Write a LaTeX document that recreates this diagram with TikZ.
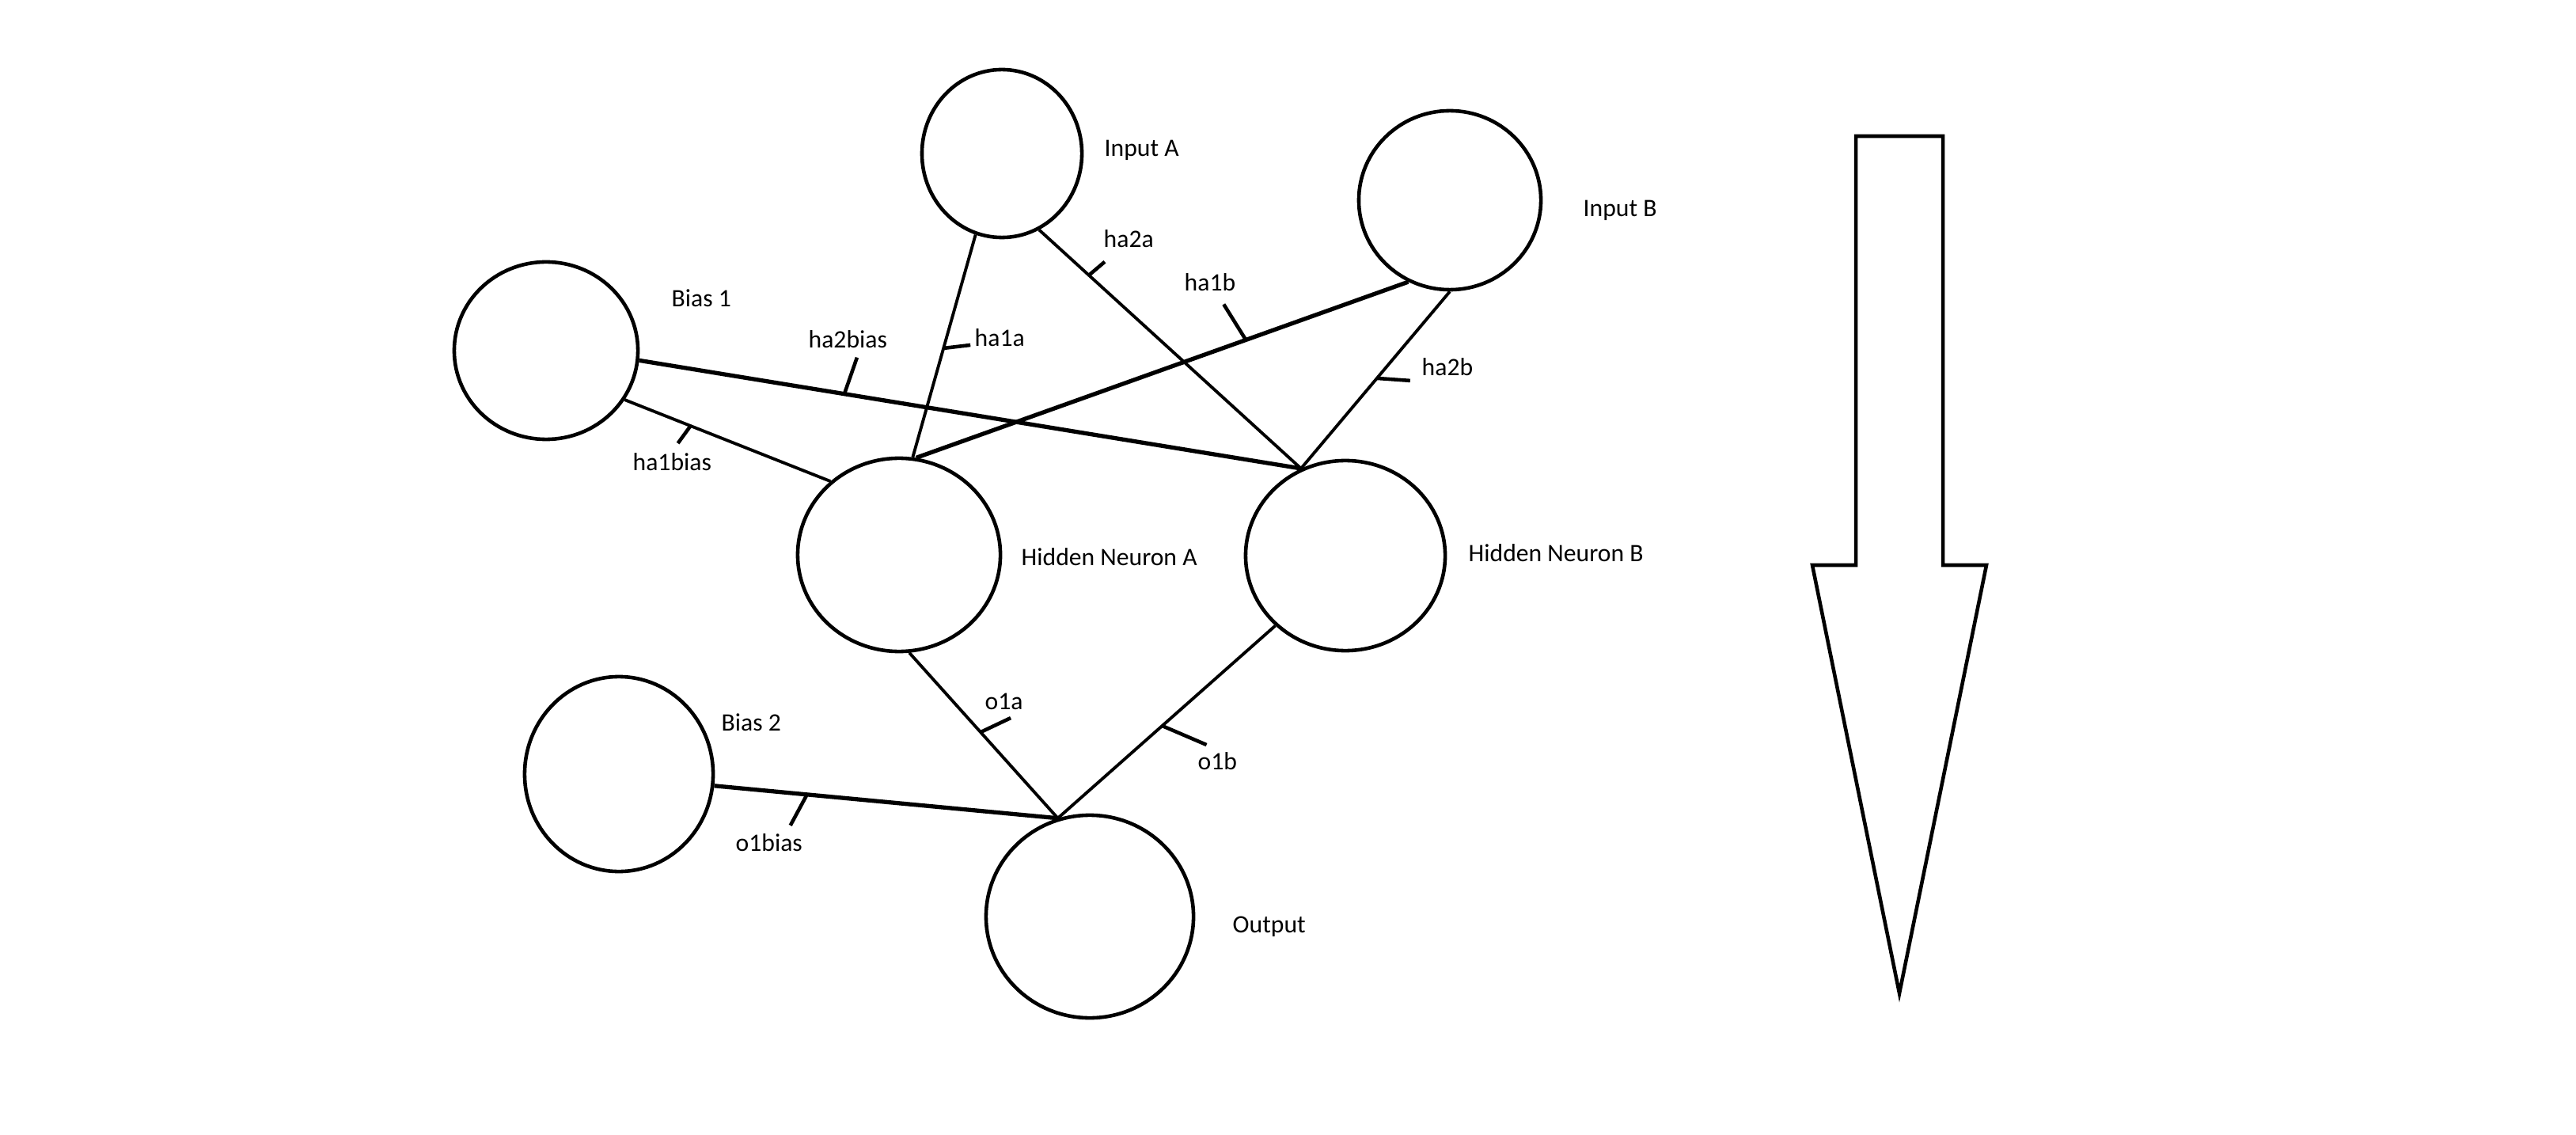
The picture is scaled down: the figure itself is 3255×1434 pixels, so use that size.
\documentclass[tikz,border=0pt]{standalone}
\usepackage{fontspec}
\setmainfont{Carlito}
\usetikzlibrary{shapes.geometric}

\begin{document}
\begin{tikzpicture}[x=0.01cm,y=-0.01cm,
    neuron/.style={draw,ellipse,line width=1.3pt,inner sep=0pt},
    wire/.style={line width=1.1pt},
    heavy/.style={line width=1.5pt},
    tick/.style={line width=1.3pt},
    lbl/.style={anchor=base west,inner sep=0pt,font=\fontsize{9pt}{11pt}\selectfont}]
  \useasboundingbox (0,0) rectangle (3255,1434);

  %neurons
  \node[neuron,minimum width=2.02cm,minimum height=2.12cm] (ia) at (1266,194) {};
  \node[neuron,minimum width=2.30cm,minimum height=2.26cm] (ib) at (1832,253) {};
  \node[neuron,minimum width=2.32cm,minimum height=2.24cm] (b1) at (690,443) {};
  \node[neuron,minimum width=2.56cm,minimum height=2.44cm] (ha) at (1136,701) {};
  \node[neuron,minimum width=2.52cm,minimum height=2.40cm] (hb) at (1700,702) {};
  \node[neuron,minimum width=2.38cm,minimum height=2.46cm] (b2) at (782,978) {};
  \node[neuron,minimum width=2.62cm,minimum height=2.56cm] (out) at (1377,1158) {};

  %names
  \node[lbl] (lia) at (1395,198) {Input A};
  \node[lbl] (lib) at (2000,274) {Input B};
  \node[lbl] (lb1) at (848,388) {Bias 1};
  \node[lbl] (lha) at (1290,714) {Hidden Neuron A};
  \node[lbl] (lhb) at (1855,709) {Hidden Neuron B};
  \node[lbl] (lb2) at (911,923) {Bias 2};
  \node[lbl] (lout) at (1557,1178) {Output};

  %inputs>hidden
  \draw[wire] (ia.252) -- coordinate[pos=.51] (t1a) (ha.82);
  \draw[wire] (ia.296) -- coordinate[pos=.19] (t2a) (hb.117);
  \draw[heavy] (ib.243) -- coordinate[pos=.33] (t1b) (ha.80);
  \draw[wire] (ib.270) -- coordinate[pos=.49] (t2b) (hb.117);
  \draw[heavy] (b1.354) -- coordinate[pos=.31] (t2bias) (hb.117);
  \draw[wire] (b1.328) -- coordinate[pos=.32] (t1bias) (ha.133);

  %hidden>output
  \draw[wire] (ha.276) -- coordinate[pos=.48] (to1a) (out.108);
  \draw[wire] (hb.225) -- coordinate[pos=.52] (to1b) (out.108);
  \draw[heavy] (b2.353) -- coordinate[pos=.27] (to1bias) (out.108);

  %weights
  \draw[tick] (t1a) -- ++(34,-4);
  \draw[tick] (t2a) -- ++(20,-17);
  \draw[tick] (t1b) -- ++(-28,-45);
  \draw[tick] (t2b) -- ++(42,3);
  \draw[tick] (t2bias) -- ++(16,-46);
  \draw[tick] (t1bias) -- ++(-16,22);
  \draw[tick] (to1a) -- ++(38,-18);
  \draw[tick] (to1b) -- ++(56,24);
  \draw[tick] (to1bias) -- ++(-21,39);
  \node[lbl] (w1a) at (1231,438) {ha1a};
  \node[lbl] (w2a) at (1394,313) {ha2a};
  \node[lbl] (w1b) at (1496,368) {ha1b};
  \node[lbl] (w2b) at (1796,475) {ha2b};
  \node[lbl] (w2bias) at (1021,440) {ha2bias};
  \node[lbl] (w1bias) at (799,595) {ha1bias};
  \node[lbl] (wo1a) at (1244,896) {o1a};
  \node[lbl] (wo1b) at (1513,972) {o1b};
  \node[lbl] (wo1bias) at (929,1075) {o1bias};

  %direction
  \draw[line width=1.3pt] (2345,172) -- (2455,172) -- (2455,714) -- (2510,714)
    -- (2400,1255) -- (2290,714) -- (2345,714) -- cycle;
\end{tikzpicture}
\end{document}
